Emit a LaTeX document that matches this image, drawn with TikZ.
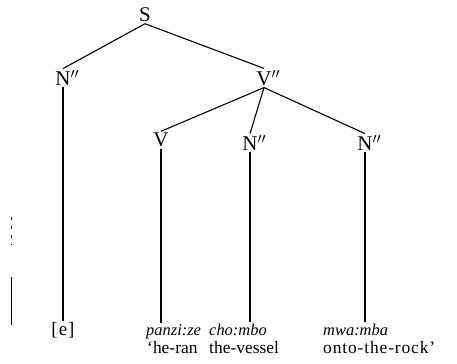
\documentclass[tikz,border=0pt]{standalone}
\usepackage{fontspec}
\setmainfont{Liberation Serif}
\usetikzlibrary{positioning}

\begin{document}
\begin{tikzpicture}[
  x=1bp,y=-1bp,
  cat/.style={inner sep=1.5bp,font=\fontsize{21}{23}\selectfont},
  word/.style={anchor=base west,inner sep=1bp,font=\fontsize{16.5}{18}\selectfont},
  gloss/.style={word,font=\fontsize{17.5}{19}\selectfont},
  branch/.style={line width=1.1bp}
]
\useasboundingbox (0,0) rectangle (457,363);
% categories
\node[cat] (S) at (145,15) {S};
\node[cat] (Nl) at (63,78) {N\rlap{$''$}};
\node[cat] (Vb) at (264,78) {V\rlap{$''$}};
\node[cat] (V) at (161,140) {V};
\node[cat] (Nm) at (250,143) {N\rlap{$''$}};
\node[cat] (Nr) at (365,143) {N\rlap{$''$}};
% words and glosses
\node[word,anchor=base,font=\fontsize{19}{21}\selectfont] (e) at (63,335) {[\kern1bp e\kern1bp]};
\node[word] (panzi) at (145,335) {\itshape panzi:ze};
\node[word] (chombo) at (208,335) {\itshape cho:mbo};
\node[word] (mwamba) at (322,335) {\itshape mwa:mba};
\node[gloss] (heran) at (146,353) {`he-ran};
\node[gloss] (vessel) at (208,353) {the-vessel};
\node[gloss] (rock) at (322,353) {\addfontfeatures{LetterSpace=5}onto-the-rock'};
% branches
\draw[branch] (S.south) -- (Nl.north);
\draw[branch] (S.south) -- (Vb.north);
\draw[branch] (Vb.south) -- (V.north);
\draw[branch] (Vb.south) -- (Nm.north);
\draw[branch] (Vb.south) -- (Nr.north);
\draw[branch] (Nl.south) -- (Nl.south |- e.north);
\draw[branch] (V.south) -- (V.south |- panzi.north);
\draw[branch] (Nm.south) -- (Nm.south |- chombo.north);
\draw[branch] (Nr.south) -- (Nr.south |- mwamba.north);
% margin marks
\draw[line width=1bp] (11,277) -- (11,325);
\draw[line width=0.6bp,dash pattern=on 3bp off 6bp] (11,217) -- (11,245);
\end{tikzpicture}
\end{document}
